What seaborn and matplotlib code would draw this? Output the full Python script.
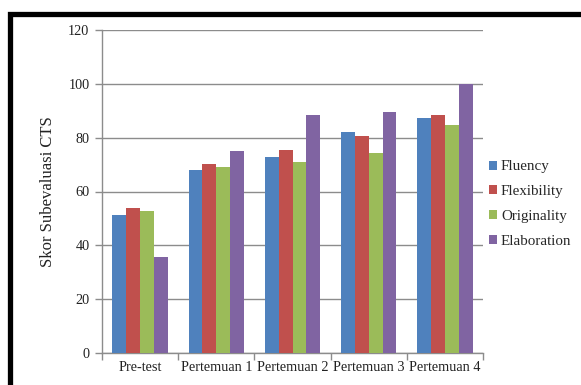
import matplotlib
matplotlib.use("Agg")
import matplotlib.pyplot as plt
import seaborn as sns
import pandas as pd
from matplotlib.patches import Rectangle
from matplotlib.ticker import FixedLocator

# Data
tahap = ["Pre-test", "Pertemuan 1", "Pertemuan 2", "Pertemuan 3", "Pertemuan 4"]
aspek = ["Fluency", "Flexibility", "Originality", "Elaboration"]
fluency = [51.2, 68.0, 73.0, 82.0, 87.3]
flexibility = [53.8, 70.4, 75.6, 80.8, 88.4]
originality = [52.6, 69.2, 71.0, 74.3, 84.6]
elaboration = [35.8, 75.0, 88.4, 89.7, 100.0]
yticks = [0, 20, 40, 60, 80, 100, 120]

colors = ["#4F81BD", "#C0504D", "#9BBB59", "#8064A2"]

rows = []
for name, vals in zip(aspek, [fluency, flexibility, originality, elaboration]):
    for t, v in zip(tahap, vals):
        rows.append({"Tahap": t, "Aspek": name, "Skor": v})
df = pd.DataFrame(rows)

sns.set_theme(style="white")
plt.rcParams["font.family"] = ["Liberation Serif", "DejaVu Serif"]

fig = plt.figure(figsize=(5.81, 3.85), dpi=100)
ax = fig.add_axes([102 / 581, 1 - 353 / 385, (483 - 102) / 581, (353 - 30) / 385])

sns.barplot(data=df, x="Tahap", y="Skor", hue="Aspek", order=tahap,
            hue_order=aspek, palette=colors, saturation=1, width=0.727,
            errorbar=None, ax=ax, linewidth=0, zorder=3)

grey = "#8C8C8C"
ax.set_ylim(0, 120)
ax.set_xlim(-0.5, 4.5)
ax.set_yticks(yticks)
ax.yaxis.grid(True, color=grey, linewidth=1.0, zorder=0)
ax.set_axisbelow(True)
for s in ["top", "right"]:
    ax.spines[s].set_visible(False)
for s in ["left", "bottom"]:
    ax.spines[s].set_color(grey)
    ax.spines[s].set_linewidth(1.0)

ax.tick_params(axis="y", which="major", direction="out", length=5, width=1,
               color=grey, labelsize=10.3, labelcolor="#222222", pad=4, left=True)
ax.tick_params(axis="x", which="major", length=0, labelsize=10.3,
               labelcolor="#222222", pad=6)
ax.xaxis.set_minor_locator(FixedLocator([-0.5, 0.5, 1.5, 2.5, 3.5, 4.5]))
ax.tick_params(axis="x", which="minor", direction="out", length=5, width=1,
               color=grey, bottom=True)

ax.set_xlabel("")
ax.set_ylabel("Skor Subevaluasi CTS", fontsize=12, color="#222222", labelpad=9)

handles, labels = ax.get_legend_handles_labels()
ax.legend(handles, labels, loc="center left",
          bbox_to_anchor=(489 / 581, 1 - 204 / 385),
          bbox_transform=fig.transFigure, frameon=False, fontsize=10.8,
          handlelength=0.55, handleheight=0.55, handletextpad=0.25,
          labelspacing=0.78, borderpad=0, borderaxespad=0)

# Thick black frame around the figure panel
fig.patches.append(Rectangle((9.5 / 581, -0.2), 1.2, 1 - 14.5 / 385 + 0.2,
                             transform=fig.transFigure, fill=False,
                             edgecolor="black", linewidth=3.8, zorder=10))

fig.savefig("out.png", dpi=100)
